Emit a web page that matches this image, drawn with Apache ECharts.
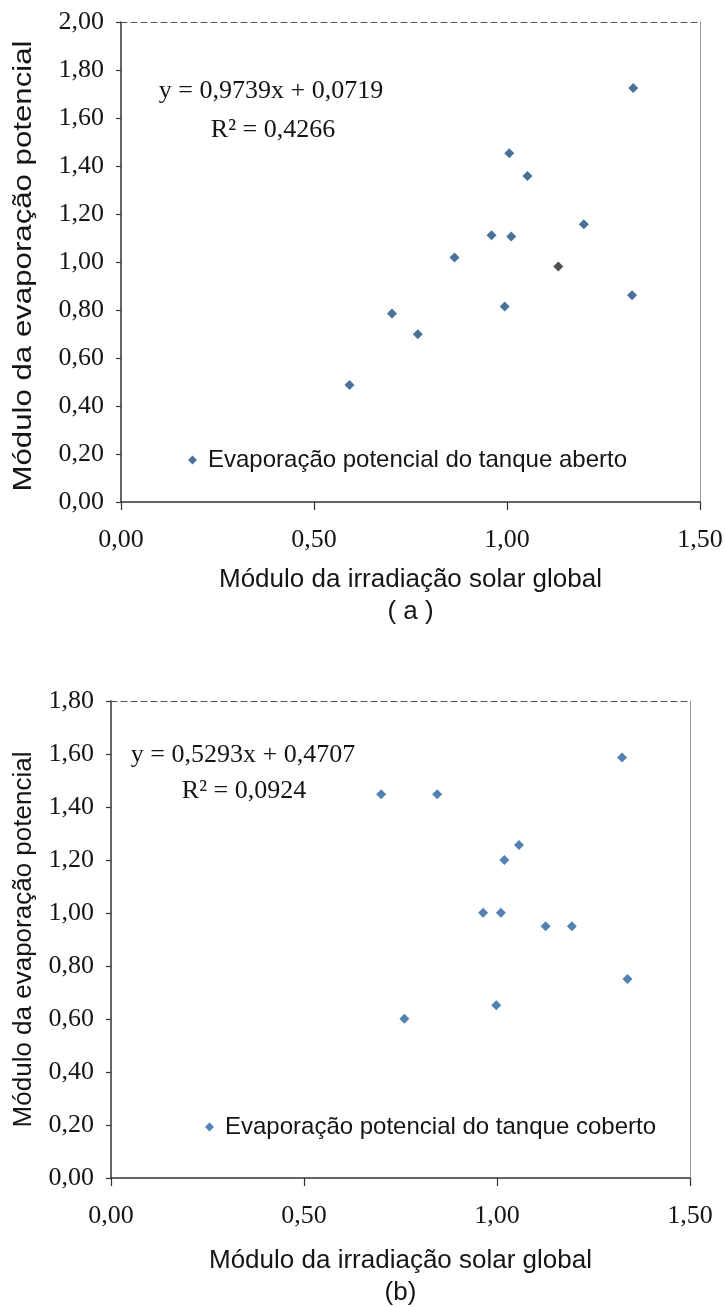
<!DOCTYPE html>
<html><head><meta charset="utf-8">
<script src="https://cdn.jsdelivr.net/npm/echarts@6/dist/echarts.min.js"></script>
<style>html,body{margin:0;padding:0;background:#fff}#c{width:725px;height:1307px}</style>
</head><body><div id="c"></div>
<script>
// ---- data ----
const xOpen = [0.592, 0.702, 0.769, 0.864, 0.960, 1.006, 1.011, 0.994, 1.053, 1.133, 1.199, 1.327, 1.324];
const yOpen = [0.488, 0.785, 0.699, 1.019, 1.111, 1.453, 1.106, 0.815, 1.358, 0.981, 1.157, 1.725, 0.861];
const xCovered = [0.700, 0.845, 0.760, 0.964, 1.010, 0.998, 1.019, 1.057, 1.126, 1.194, 1.324, 1.338];
const yCovered = [1.448, 1.448, 0.601, 1.001, 1.001, 0.652, 1.200, 1.257, 0.950, 0.950, 1.587, 0.751];
const xTickLabels = ['0,00', '0,50', '1,00', '1,50'];
const yTickLabelsA = ['0,00', '0,20', '0,40', '0,60', '0,80', '1,00', '1,20', '1,40', '1,60', '1,80', '2,00'];
const yTickLabelsB = ['0,00', '0,20', '0,40', '0,60', '0,80', '1,00', '1,20', '1,40', '1,60', '1,80'];
const nameOpen = 'Evaporação potencial do tanque aberto';
const nameCovered = 'Evaporação potencial do tanque coberto';
const eqOpen = ['y = 0,9739x + 0,0719', 'R² = 0,4266'];
const eqCovered = ['y = 0,5293x + 0,4707', 'R² = 0,0924'];
const xTitle = 'Módulo da irradiação solar global';
const yTitle = 'Módulo da evaporação potencial';
const panelLabels = ['( a )', '(b)'];
const darkPointIndex = 9;

// ---- styles ----
const SERIF = '"Liberation Serif", "Times New Roman", serif';
const SANS = '"Liberation Sans", Arial, sans-serif';
const INK = '#151515';
const MARK = '#1d4f7e';

function pairs(xs, ys) { return xs.map((x, i) => [x, ys[i]]); }
const dataOpen = pairs(xOpen, yOpen).map((p, i) => i === darkPointIndex ? { value: p, itemStyle: { color: '#262626' } } : p);
const dataCovered = pairs(xCovered, yCovered);

function xAxisMain(gridIndex, label, gap) {
  return {
    type: 'value', gridIndex, min: 0, max: 1.5, interval: 0.5,
    axisLine: { show: true, onZero: false, lineStyle: { color: '#333', width: 1.5 } },
    axisTick: { show: true, length: 8, lineStyle: { color: '#333', width: 1.2 } },
    axisLabel: { margin: 25, color: INK, fontFamily: SERIF, fontSize: 26, formatter: (v, i) => xTickLabels[Math.round(v / 0.5)] },
    splitLine: { show: false },
    name: xTitle + '\n' + label, nameLocation: 'middle', nameGap: gap,
    nameTextStyle: { color: INK, fontFamily: SANS, fontSize: 26, lineHeight: 32 }
  };
}
function xAxisTop(gridIndex) {
  return {
    type: 'value', gridIndex, min: 0, max: 1.5, position: 'top',
    axisLine: { show: true, onZero: false, lineStyle: { color: '#555', width: 1.2, type: [6, 4] } },
    axisTick: { show: false }, axisLabel: { show: false }, splitLine: { show: false }
  };
}
function yAxisMain(gridIndex, max, labels, withName) {
  const ax = {
    type: 'value', gridIndex, min: 0, max, interval: 0.2,
    axisLine: { show: true, onZero: false, lineStyle: { color: '#333', width: 1.5 } },
    axisTick: { show: true, length: 5, lineStyle: { color: '#333', width: 1.2 } },
    axisLabel: { margin: 17, color: INK, fontFamily: SERIF, fontSize: 26, formatter: (v) => labels[Math.round(v / 0.2)] },
    splitLine: { show: false }
  };
  if (withName) {
    ax.name = yTitle; ax.nameLocation = 'middle'; ax.nameGap = 74;
    ax.nameTextStyle = { color: INK, fontFamily: SANS, fontSize: 26 };
  }
  return ax;
}
function yAxisRight(gridIndex, max) {
  return {
    type: 'value', gridIndex, min: 0, max, position: 'right',
    axisLine: { show: true, onZero: false, lineStyle: { color: '#9a9a9a', width: 1 } },
    axisTick: { show: false }, axisLabel: { show: false }, splitLine: { show: false }
  };
}

function eqText(x, y, txt) {
  return { type: 'text', x, y, silent: true,
    style: { text: txt, fill: INK, font: '26px ' + SERIF, textAlign: 'center', textVerticalAlign: 'middle', align: 'center', verticalAlign: 'middle' } };
}

const option = {
  backgroundColor: '#ffffff',
  animation: false,
  grid: [
    { left: 121, top: 22, right: 25, bottom: 805, containLabel: false, outerBoundsMode: 'none' },
    { left: 111, top: 701, right: 35, bottom: 129, containLabel: false, outerBoundsMode: 'none' }
  ],
  xAxis: [xAxisMain(0, panelLabels[0], 62), xAxisTop(0), xAxisMain(1, panelLabels[1], 67), xAxisTop(1)],
  yAxis: [yAxisMain(0, 2.0, yTickLabelsA, false), yAxisRight(0, 2.0), yAxisMain(1, 1.8, yTickLabelsB, true), yAxisRight(1, 1.8)],
  legend: [
    { data: [nameOpen], left: 183, top: 443, itemWidth: 9, itemHeight: 9, icon: 'diamond', orient: 'horizontal',
      textStyle: { color: INK, fontFamily: SANS, fontSize: 24, padding: [0, 0, 0, 6] } },
    { data: [nameCovered], left: 200, top: 1110, itemWidth: 9, itemHeight: 9, icon: 'diamond', orient: 'horizontal',
      textStyle: { color: INK, fontFamily: SANS, fontSize: 24, padding: [0, 0, 0, 6] } }
  ],
  series: [
    { name: nameOpen, type: 'scatter', xAxisIndex: 0, yAxisIndex: 0, symbol: 'diamond', symbolSize: 10,
      itemStyle: { color: MARK }, data: dataOpen },
    { name: nameCovered, type: 'scatter', xAxisIndex: 2, yAxisIndex: 2, symbol: 'diamond', symbolSize: 10,
      itemStyle: { color: '#2563a0' }, data: dataCovered }
  ],
  graphic: [
    eqText(271, 91, eqOpen[0]),
    eqText(273, 130, eqOpen[1]),
    eqText(243, 755, eqCovered[0]),
    eqText(244, 791, eqCovered[1]),
    { type: 'text', x: 24, y: 266, rotation: Math.PI / 2, scaleX: 1.2, silent: true,
      style: { text: yTitle, fill: INK, font: '26px ' + SANS, textAlign: 'center', textVerticalAlign: 'middle', align: 'center', verticalAlign: 'middle' } }
  ]
};

const chart = echarts.init(document.getElementById('c'), null, { renderer: 'canvas' });
chart.setOption(option);
</script>
</body></html>
